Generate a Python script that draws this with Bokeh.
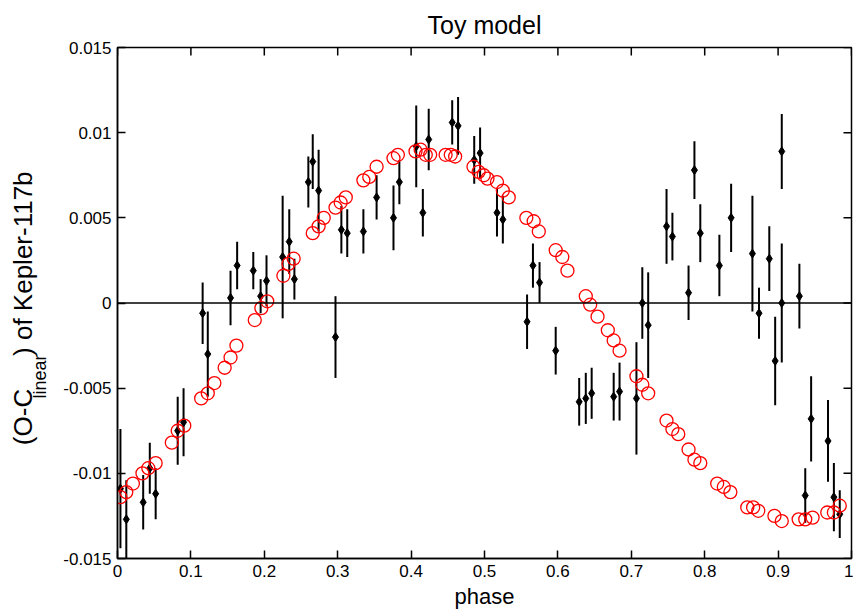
import math
from bokeh.plotting import figure
from bokeh.models import FixedTicker, Span, Range1d
from bokeh.layouts import row
from bokeh.core.properties import value
from bokeh.embed import file_html
from bokeh.resources import INLINE

# ---- data: observed O-C with uncertainties ----
obs_phase = [0.004, 0.012, 0.035, 0.044, 0.052, 0.082, 0.090, 0.116, 0.123, 0.154,
             0.163, 0.185, 0.195, 0.203, 0.225, 0.234, 0.241, 0.260, 0.266, 0.274,
             0.297, 0.305, 0.313, 0.335, 0.353, 0.376, 0.384, 0.407, 0.416, 0.424,
             0.456, 0.464, 0.486, 0.494, 0.517, 0.525, 0.558, 0.566, 0.575, 0.597,
             0.629, 0.638, 0.646, 0.676, 0.684, 0.707, 0.715, 0.723, 0.748, 0.756,
             0.778, 0.786, 0.794, 0.820, 0.836, 0.865, 0.874, 0.888, 0.896, 0.905,
             0.905, 0.929, 0.937, 0.945, 0.968, 0.976, 0.984]
obs_oc = [-0.0109, -0.0127, -0.0117, -0.0097, -0.0112, -0.0075, -0.0070, -0.0006, -0.0030, 0.0003,
          0.0022, 0.0019, 0.0004, 0.0013, 0.0027, 0.0036, 0.0014, 0.0071, 0.0083, 0.0066,
          -0.0020, 0.0043, 0.0041, 0.0042, 0.0062, 0.0050, 0.0071, 0.0092, 0.0053, 0.0096,
          0.0106, 0.0104, 0.0084, 0.0088, 0.0053, 0.0049, -0.0011, 0.0022, 0.0012, -0.0028,
          -0.0058, -0.0056, -0.0053, -0.0055, -0.0052, -0.0056, 0.0000, -0.0013, 0.0045, 0.0039,
          0.0006, 0.0078, 0.0041, 0.0022, 0.0050, 0.0029, -0.0006, 0.0026, -0.0034, 0.0089,
          0.0000, 0.0004, -0.0113, -0.0068, -0.0081, -0.0114, -0.0124]
obs_err = [0.0035, 0.0023, 0.0016, 0.0015, 0.0015, 0.0020, 0.0020, 0.0018, 0.0025, 0.0016,
           0.0014, 0.0011, 0.0010, 0.0015, 0.0036, 0.0019, 0.0012, 0.0015, 0.0016, 0.0024,
           0.0024, 0.0014, 0.0014, 0.0013, 0.0013, 0.0019, 0.0013, 0.0024, 0.0014, 0.0018,
           0.0013, 0.0017, 0.0014, 0.0015, 0.0014, 0.0014, 0.0016, 0.0013, 0.0012, 0.0014,
           0.0014, 0.0015, 0.0015, 0.0014, 0.0017, 0.0033, 0.0021, 0.0031, 0.0022, 0.0014,
           0.0016, 0.0017, 0.0017, 0.0018, 0.0020, 0.0034, 0.0015, 0.0019, 0.0026, 0.0022,
           0.0035, 0.0019, 0.0016, 0.0025, 0.0024, 0.0020, 0.0014]

# ---- data: toy model ----
model_phase = [0.004, 0.012, 0.021, 0.034, 0.042, 0.052, 0.074, 0.082, 0.091, 0.114,
               0.123, 0.132, 0.146, 0.154, 0.162, 0.187, 0.196, 0.204, 0.226, 0.233,
               0.240, 0.266, 0.274, 0.281, 0.297, 0.304, 0.311, 0.335, 0.343, 0.353,
               0.376, 0.382, 0.406, 0.413, 0.420, 0.426, 0.447, 0.454, 0.460, 0.485,
               0.492, 0.499, 0.504, 0.517, 0.525, 0.533, 0.557, 0.567, 0.574, 0.597,
               0.606, 0.613, 0.638, 0.644, 0.654, 0.668, 0.676, 0.684, 0.707, 0.715,
               0.723, 0.748, 0.756, 0.764, 0.778, 0.786, 0.794, 0.817, 0.826, 0.835,
               0.858, 0.866, 0.873, 0.895, 0.905, 0.928, 0.937, 0.947, 0.967, 0.976, 0.984]
model_oc = [-0.0114, -0.0111, -0.0106, -0.0100, -0.0097, -0.0094, -0.0082, -0.0075, -0.0072, -0.0056,
            -0.0053, -0.0047, -0.0038, -0.0032, -0.0025, -0.0010, -0.0003, 0.0001, 0.0016, 0.0023,
            0.0026, 0.0041, 0.0045, 0.0050, 0.0056, 0.0059, 0.0062, 0.0072, 0.0074, 0.0080,
            0.0085, 0.0087, 0.0089, 0.0090, 0.0087, 0.0087, 0.0087, 0.0087, 0.0086, 0.0080,
            0.0077, 0.0075, 0.0073, 0.0071, 0.0066, 0.0062, 0.0050, 0.0048, 0.0042, 0.0031,
            0.0027, 0.0019, 0.0004, -0.0001, -0.0008, -0.0016, -0.0022, -0.0028, -0.0043, -0.0048,
            -0.0053, -0.0069, -0.0074, -0.0077, -0.0086, -0.0092, -0.0094, -0.0106, -0.0108, -0.0111,
            -0.0120, -0.0120, -0.0122, -0.0125, -0.0128, -0.0127, -0.0127, -0.0126, -0.0123, -0.0123, -0.0119]

# ---- ticks ----
x_ticks = [0, 0.1, 0.2, 0.3, 0.4, 0.5, 0.6, 0.7, 0.8, 0.9, 1]
x_tick_labels = ["0", "0.1", "0.2", "0.3", "0.4", "0.5", "0.6", "0.7", "0.8", "0.9", "1"]
y_ticks = [-0.015, -0.01, -0.005, 0, 0.005, 0.01, 0.015]
y_tick_labels = ["-0.015", "-0.01", "-0.005", "0", "0.005", "0.01", "0.015"]

FONT = "Liberation Sans"
LABEL_W = 57
X0, X1 = 0, 1
Y0, Y1 = -0.015, 0.015

p = figure(width=853 - LABEL_W, height=613, x_range=Range1d(X0, X1), y_range=Range1d(Y0, Y1),
           output_backend="svg", toolbar_location=None, title="Toy model",
           min_border_left=117 - LABEL_W, min_border_right=2, min_border_top=47,
           min_border_bottom=55)
p.background_fill_color = "white"
p.border_fill_color = "white"
p.outline_line_color = "black"
p.outline_line_width = 1.5
p.xgrid.visible = False
p.ygrid.visible = False

p.title.text_font = FONT
p.title.text_font_size = "25px"
p.title.text_font_style = "normal"
p.title.align = "center"
p.title.text_color = "black"
p.title.standoff = 17


def style_axis(ax):
    ax.axis_line_color = "black"
    ax.axis_line_width = 1.5
    ax.major_tick_in = 8
    ax.major_tick_out = 0
    ax.major_tick_line_color = "black"
    ax.major_tick_line_width = 1.5
    ax.minor_tick_line_color = None
    ax.major_label_text_font = FONT
    ax.major_label_text_color = "black"
    ax.major_label_text_font_size = "17px"
    ax.major_label_standoff = 6


xax = p.xaxis[0]
xax.ticker = FixedTicker(ticks=x_ticks)
xax.major_label_overrides = dict(zip(x_ticks, x_tick_labels))
style_axis(xax)
xax.axis_label = "phase"
xax.axis_label_text_font = FONT
xax.axis_label_text_font_size = "22px"
xax.axis_label_text_font_style = "normal"
xax.axis_label_text_color = "black"
xax.axis_label_standoff = 4

yax = p.yaxis[0]
yax.ticker = FixedTicker(ticks=y_ticks)
yax.major_label_overrides = dict(zip(y_ticks, y_tick_labels))
style_axis(yax)

# inward ticks on the top and right edges of the box
tick_dy = (Y1 - Y0) * 8 / 511
tick_dx = (X1 - X0) * 8 / 734
p.segment(x0=x_ticks, y0=[Y1] * len(x_ticks), x1=x_ticks, y1=[Y1 - tick_dy] * len(x_ticks),
          line_color="black", line_width=1.5)
p.segment(x0=[X1] * len(y_ticks), y0=y_ticks, x1=[X1 - tick_dx] * len(y_ticks), y1=y_ticks,
          line_color="black", line_width=1.5)

# zero line
p.add_layout(Span(location=0, dimension="width", line_color="black", line_width=1.5))

# error bars and observed points
lo = [v - e for v, e in zip(obs_oc, obs_err)]
hi = [v + e for v, e in zip(obs_oc, obs_err)]
p.segment(x0=obs_phase, y0=lo, x1=obs_phase, y1=hi, line_color="black", line_width=2)
p.scatter(obs_phase, obs_oc, marker="diamond", size=9, fill_color="black", line_color="black")

# model
p.scatter(model_phase, model_oc, marker="circle", size=13, fill_color=None,
          line_color="red", line_width=1.3)

# ---- y-axis label panel (text with subscript) ----
lab = figure(width=LABEL_W, height=613, x_range=Range1d(0, LABEL_W), y_range=Range1d(0, 613),
             output_backend="svg", toolbar_location=None, min_border=0,
             x_axis_type=None, y_axis_type=None)
lab.outline_line_color = None
lab.background_fill_color = "white"
lab.border_fill_color = "white"
lab.grid.visible = False
lab.text(x=[22], y=[136], text=["(O-C"], angle=math.pi / 2, text_font=value(FONT),
         text_font_size="26px", text_baseline="middle", text_align="left", text_color="black")
lab.text(x=[39], y=[192], text=["linear"], angle=math.pi / 2, text_font=value(FONT),
         text_font_size="18px", text_baseline="middle", text_align="left", text_color="black")
lab.text(x=[22], y=[243], text=[") of Kepler-117b"], angle=math.pi / 2, text_font=value(FONT),
         text_font_size="26px", text_baseline="middle", text_align="left", text_color="black")

layout = row(lab, p, spacing=0)
open("out.html", "w").write(file_html(layout, INLINE))
